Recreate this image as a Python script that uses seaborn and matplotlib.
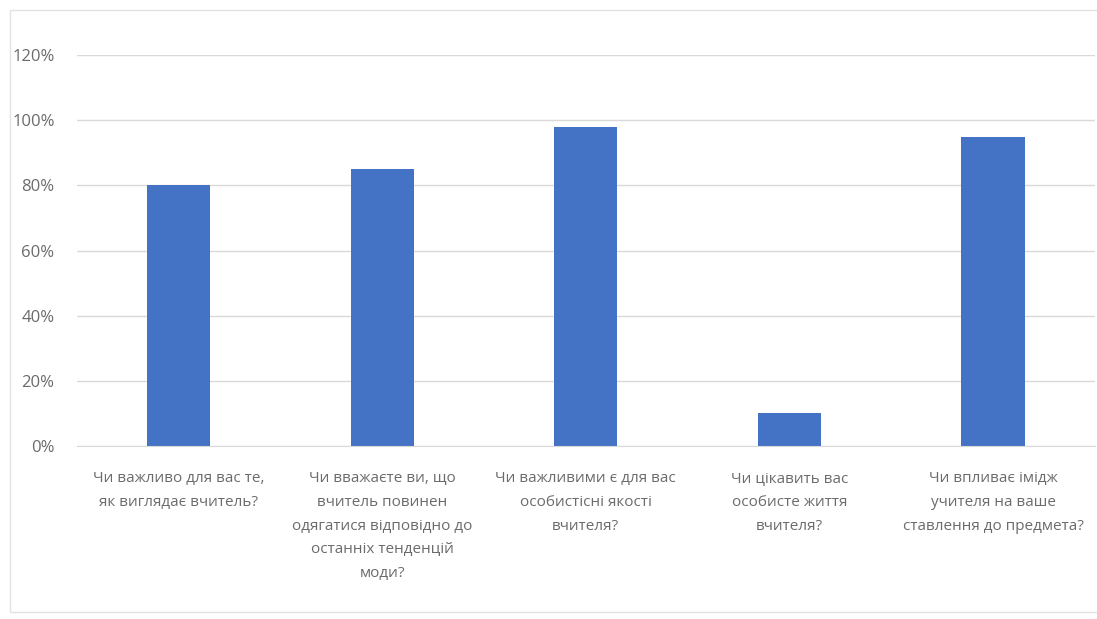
import matplotlib
matplotlib.use("Agg")
import matplotlib.pyplot as plt
import seaborn as sns
import pandas as pd
from matplotlib.patches import Rectangle
from matplotlib.ticker import PercentFormatter

# Data
questions = [
    "Чи важливо для вас те,\nяк виглядає вчитель?",
    "Чи вважаєте ви, що\nвчитель повинен\nодягатися відповідно до\nостанніх тенденцій\nмоди?",
    "Чи важливими є для вас\nособистісні якості\nвчителя?",
    "Чи цікавить вас\nособисте життя\nвчителя?",
    "Чи впливає імідж\nучителя на ваше\nставлення до предмета?",
]
shares = [0.80, 0.85, 0.98, 0.10, 0.95]

df = pd.DataFrame({"question": questions, "share": shares})

sns.set_style("white")
plt.rcParams['font.family'] = ['Liberation Sans Narrow', 'Open Sans', 'DejaVu Sans']

fig = plt.figure(figsize=(10.97, 6.19), dpi=100)
ax = fig.add_axes([0.070, 0.2795, 0.928, 0.6315])

sns.barplot(data=df, x="question", y="share", color="#4472C4", width=0.31,
            saturation=1, linewidth=0, ax=ax)

ax.set_ylim(0, 1.2)
ax.set_yticks([0, 0.2, 0.4, 0.6, 0.8, 1.0, 1.2])
ax.yaxis.set_major_formatter(PercentFormatter(1.0, decimals=0))
ax.grid(axis="y", color="#D9D9D9", linewidth=1)
ax.set_axisbelow(True)
for s in ["top", "right", "left"]:
    ax.spines[s].set_visible(False)
ax.spines["bottom"].set_color("#D9D9D9")
ax.set_xlabel("")
ax.set_ylabel("")
ax.tick_params(axis="both", length=0, colors="#6B6B6B", labelsize=11)
ax.tick_params(axis="x", pad=18)
ax.tick_params(axis="y", pad=16, labelsize=12)
for lbl in ax.get_xticklabels():
    lbl.set_linespacing(1.8)

# chart border like the original screenshot
fig.patches.append(Rectangle((0.009, 0.011), 0.995, 0.973, transform=fig.transFigure,
                             fill=False, edgecolor="#E3E3E3", linewidth=1))

plt.savefig("out.png", dpi=100)
